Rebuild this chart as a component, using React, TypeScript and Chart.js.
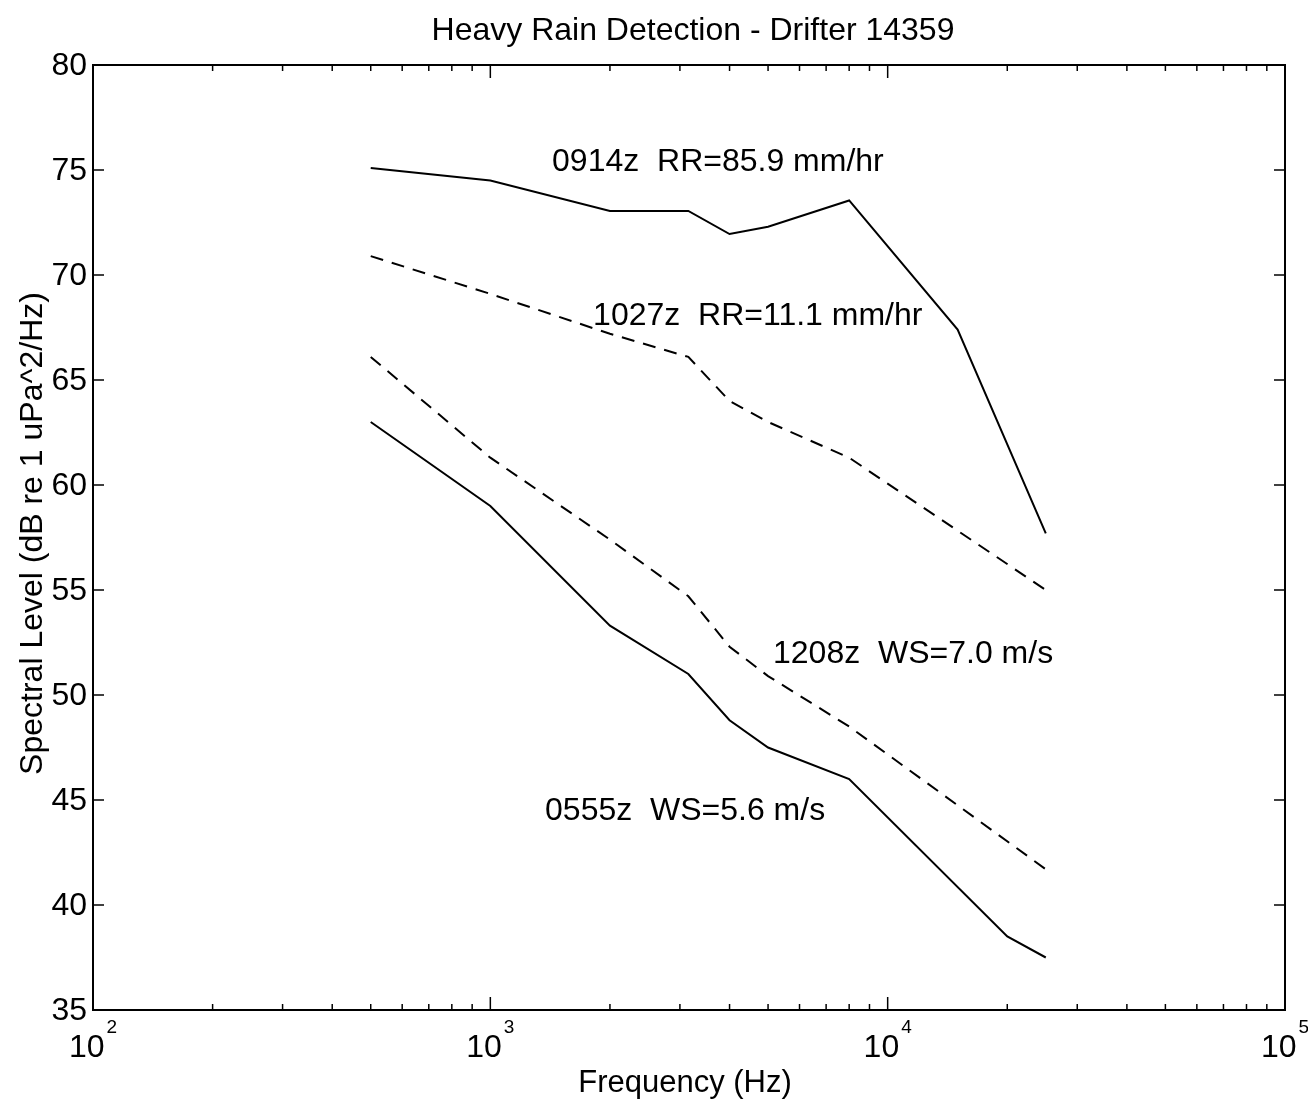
import React, { useEffect, useRef } from "react";
import { Chart, registerables } from "chart.js";

Chart.register(...registerables);

// ---- data ----
const frequencyHz = [500, 1000, 2000, 3150, 4000, 5000, 8000, 15000, 20000, 25000];
const level0914 = [75.1, 74.5, 73.05, 73.05, 71.95, 72.3, 73.55, 67.4, null, 57.7];
const level1027 = [70.9, 69.1, 67.2, 66.1, 64.0, 63.0, 61.3, null, null, 55.0];
const level1208 = [66.1, 61.3, 57.4, 54.7, 52.3, 50.9, 48.5, null, null, 41.7];
const level0555 = [63.0, 59.0, 53.3, 51.0, 48.8, 47.5, 46.0, null, 38.5, 37.5];

const yTickValues = [35, 40, 45, 50, 55, 60, 65, 70, 75, 80];
const xDecades = [100, 1000, 10000, 100000];
const xExponents = ["2", "3", "4", "5"];

const annotationText = [
  "0914z  RR=85.9 mm/hr",
  "1027z  RR=11.1 mm/hr",
  "1208z  WS=7.0 m/s",
  "0555z  WS=5.6 m/s",
];
const annotationFreq = [1430, 1814, 5146, 1373];
const annotationLevel = [74.95, 67.62, 51.52, 44.05];

const titleText = "Heavy Rain Detection - Drifter 14359";
const xTitle = "Frequency (Hz)";
const yTitle = "Spectral Level (dB re 1 uPa^2/Hz)";

const FONT = '"Liberation Sans", Arial, Helvetica, sans-serif';

const decorPlugin = {
  id: "matlabDecor",
  afterDatasetsDraw(chart: any) {
    const { ctx, chartArea: a, scales } = chart;
    const xs = scales.x;
    const ys = scales.y;
    ctx.save();
    ctx.strokeStyle = "#000";
    ctx.fillStyle = "#000";
    ctx.lineWidth = 2;
    ctx.setLineDash([]);
    ctx.strokeRect(a.left, a.top, a.right - a.left, a.bottom - a.top);

    const seg = (x1: number, y1: number, x2: number, y2: number) => {
      ctx.beginPath();
      ctx.moveTo(x1, y1);
      ctx.lineTo(x2, y2);
      ctx.stroke();
    };

    // y ticks
    ctx.lineWidth = 1.5;
    yTickValues.forEach((v) => {
      const py = ys.getPixelForValue(v);
      seg(a.left, py, a.left + 11, py);
      seg(a.right, py, a.right - 11, py);
    });
    // x ticks (major + minor)
    xDecades.forEach((d, i) => {
      const px = xs.getPixelForValue(d);
      seg(px, a.bottom, px, a.bottom - 13);
      seg(px, a.top, px, a.top + 13);
      if (i < xDecades.length - 1) {
        for (let m = 2; m <= 9; m++) {
          const mx = xs.getPixelForValue(d * m);
          seg(mx, a.bottom, mx, a.bottom - 6);
          seg(mx, a.top, mx, a.top + 6);
        }
      }
    });

    // y tick labels
    ctx.font = `32px ${FONT}`;
    ctx.textAlign = "right";
    ctx.textBaseline = "middle";
    yTickValues.forEach((v) => {
      ctx.fillText(String(v), a.left - 6, ys.getPixelForValue(v) + 1);
    });

    // x tick labels: 10 with superscript exponent
    ctx.textBaseline = "alphabetic";
    xDecades.forEach((d, i) => {
      const px = xs.getPixelForValue(d);
      ctx.font = `32px ${FONT}`;
      const w1 = ctx.measureText("10").width;
      ctx.font = `19px ${FONT}`;
      const w2 = ctx.measureText(xExponents[i]).width;
      const total = w1 + 2 + w2;
      const left = px - total / 2;
      ctx.textAlign = "left";
      ctx.font = `32px ${FONT}`;
      ctx.fillText("10", left, a.bottom + 47);
      ctx.font = `19px ${FONT}`;
      ctx.fillText(xExponents[i], left + w1 + 2, a.bottom + 23);
    });

    // title
    ctx.font = `32px ${FONT}`;
    ctx.textAlign = "center";
    ctx.fillText(titleText, (a.left + a.right) / 2 + 4, 40);

    // x axis title
    ctx.font = `31px ${FONT}`;
    ctx.fillText(xTitle, (a.left + a.right) / 2 - 4, 1092);

    // y axis title
    ctx.save();
    ctx.font = `32px ${FONT}`;
    ctx.translate(42, (a.top + a.bottom) / 2 - 4);
    ctx.rotate(-Math.PI / 2);
    ctx.textAlign = "center";
    ctx.fillText(yTitle, 0, 0);
    ctx.restore();

    // annotations
    ctx.font = `32px ${FONT}`;
    ctx.textAlign = "left";
    ctx.textBaseline = "alphabetic";
    annotationText.forEach((t, i) => {
      ctx.fillText(
        t,
        xs.getPixelForValue(annotationFreq[i]),
        ys.getPixelForValue(annotationLevel[i])
      );
    });

    ctx.restore();
  },
};

function makeSeries(values: (number | null)[], dashed: boolean) {
  return {
    data: frequencyHz.map((f, i) => ({ x: f, y: values[i] })),
    borderColor: "#000",
    backgroundColor: "#000",
    borderWidth: 2,
    borderDash: dashed ? [13, 9] : [],
    pointRadius: 0,
    tension: 0,
    spanGaps: true,
    fill: false,
  };
}

export default function App() {
  const canvasRef = useRef<HTMLCanvasElement | null>(null);

  useEffect(() => {
    document.body.style.margin = "0";
    document.body.style.background = "#fff";
    const canvas = canvasRef.current;
    if (!canvas) return;
    const chart = new Chart(canvas, {
      type: "line",
      data: {
        datasets: [
          makeSeries(level0914, false),
          makeSeries(level1027, true),
          makeSeries(level1208, true),
          makeSeries(level0555, false),
        ] as any,
      },
      options: {
        animation: false,
        responsive: false,
        devicePixelRatio: 1,
        layout: { padding: { top: 65, right: 23, left: 0, bottom: 0 } },
        plugins: {
          legend: { display: false },
          tooltip: { enabled: false },
          title: { display: false },
        },
        scales: {
          x: {
            type: "logarithmic",
            min: 100,
            max: 100000,
            ticks: { display: false },
            grid: { display: false },
            border: { display: false },
            afterFit: (s: any) => {
              s.height = 92;
            },
          },
          y: {
            type: "linear",
            min: 35,
            max: 80,
            ticks: { display: false },
            grid: { display: false },
            border: { display: false },
            afterFit: (s: any) => {
              s.width = 93;
            },
          },
        },
      } as any,
      plugins: [decorPlugin],
    });
    return () => chart.destroy();
  }, []);

  return (
    <div style={{ width: 1308, height: 1102, position: "relative", background: "#fff" }}>
      <canvas ref={canvasRef} width={1308} height={1102} style={{ display: "block" }} />
    </div>
  );
}
